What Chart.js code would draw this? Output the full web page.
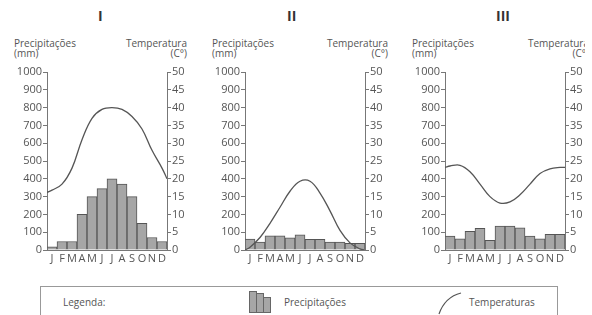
<!DOCTYPE html>
<html>
<head>
<meta charset="utf-8">
<script src="https://cdn.jsdelivr.net/npm/chart.js@4"></script>
<style>
  body { margin: 0; background: #fff; font-family: "Open Sans", sans-serif; color: #555; }
  #page { position: relative; width: 585px; height: 315px; overflow: hidden; }
  .box { position: absolute; }
  .title { position: absolute; top: 6px; font-size: 14px; font-weight: bold; color: #333; }
  .lab { position: absolute; font-size: 10px; line-height: 10px; color: #555; white-space: nowrap; }
  .r { text-align: right; }
  #legend { position: absolute; left: 40px; top: 286px; width: 516px; height: 40px; border: 1px solid #999; }
  .bar { position: absolute; bottom: 0; width: 6px; background: #a6a6a6; border: 1px solid #666; }
</style>
</head>
<body>
<div id="page">
  <div class="title" style="left:98px">I</div>
  <div class="title" style="left:287px">II</div>
  <div class="title" style="left:496px">III</div>

  <div class="lab" style="left:14px;top:38px">Precipitações<br>(mm)</div>
  <div class="lab r" style="left:100px;top:38px;width:87px">Temperatura<br>(C°)</div>
  <div class="lab" style="left:212px;top:38px">Precipitações<br>(mm)</div>
  <div class="lab r" style="left:300px;top:38px;width:88px">Temperatura<br>(C°)</div>
  <div class="lab" style="left:412px;top:38px">Precipitações<br>(mm)</div>
  <div class="lab r" style="left:500px;top:38px;width:89px">Temperatura<br>(C°)</div>

  <div class="box" style="left:0px;top:62px;width:200px;height:210px"><canvas id="c1"></canvas></div>
  <div class="box" style="left:198px;top:62px;width:200px;height:210px"><canvas id="c2"></canvas></div>
  <div class="box" style="left:398px;top:62px;width:200px;height:210px"><canvas id="c3"></canvas></div>

  <div id="legend">
    <div class="lab" style="left:22px;top:10px">Legenda:</div>
    <div style="position:absolute;left:208px;top:4px;width:24px;height:22px">
      <div class="bar" style="left:0;height:20px"></div>
      <div class="bar" style="left:7px;height:18px"></div>
      <div class="bar" style="left:14px;height:14px"></div>
    </div>
    <div class="lab" style="left:243px;top:10px">Precipitações</div>
    <svg style="position:absolute;left:396px;top:4px" width="26" height="24">
      <path d="M2 23 Q8 6 24 2" fill="none" stroke="#555" stroke-width="1.2"/>
    </svg>
    <div class="lab" style="left:428px;top:10px">Temperaturas</div>
  </div>
</div>

<script>
const months = ['J', 'F', 'M', 'A', 'M', 'J', 'J', 'A', 'S', 'O', 'N', 'D'];

// precipitation (mm), one value per month
const precipI = [18, 48, 48, 200, 300, 345, 400, 370, 300, 150, 70, 48];
const precipII = [62, 45, 80, 80, 68, 85, 60, 60, 45, 45, 38, 38];
const precipIII = [78, 63, 105, 122, 55, 135, 135, 124, 78, 63, 88, 88];

// temperature (C) read at the year edges and at the middle of each month
const tempX = [0, 0.5, 1.5, 2.5, 3.5, 4.5, 5.5, 6.5, 7.5, 8.5, 9.5, 10.5, 11.5, 12];
const tempI = [16.2, 16.8, 18.5, 23, 31, 37, 39.5, 40, 39.5, 37.5, 34, 28, 23, 20];
const tempII = [0, 0.8, 3.5, 7.5, 12, 16.5, 19.3, 19.3, 16, 11, 5.5, 2, 0.3, 0];
const tempIII = [23.2, 23.6, 23.8, 22, 18.5, 15, 13.2, 13.5, 15.5, 18.5, 21.5, 22.8, 23.2, 23.2];

const axisColor = '#777';
const tickFont = { family: 'Open Sans', size: 11 };

function makeChart(id, precip, temp) {
  const points = tempX.map(function(x, i) { return { x: x, y: temp[i] }; });
  return new Chart(document.getElementById(id), {
    type: 'bar',
    data: {
      labels: months,
      datasets: [{
        type: 'line',
        data: points,
        xAxisID: 'xLine',
        yAxisID: 'y1',
        borderColor: '#555',
        borderWidth: 1.3,
        pointRadius: 0,
        tension: 0.4,
        fill: false,
        order: 0
      }, {
        type: 'bar',
        data: precip,
        xAxisID: 'x',
        yAxisID: 'y',
        backgroundColor: '#a6a6a6',
        borderColor: '#555',
        borderWidth: 1,
        grouped: false, // otherwise the line counts as a second stack and halves the bars
        barPercentage: 1,
        categoryPercentage: 1,
        order: 1
      }]
    },
    options: {
      responsive: true,
      maintainAspectRatio: false,
      animation: false,
      layout: { padding: { top: 10, left: 0, right: 0, bottom: 0 } },
      plugins: { legend: { display: false }, tooltip: { enabled: false } },
      scales: {
        x: {
          type: 'category',
          offset: true,
          grid: { display: false, drawTicks: false },
          border: { display: true, color: axisColor },
          ticks: { color: '#555', font: tickFont, padding: 2, maxRotation: 0, autoSkip: false },
          afterFit: function(s) { s.height = 22; }
        },
        xLine: {
          type: 'linear',
          display: false,
          offset: false,
          min: 0,
          max: 12
        },
        y: {
          position: 'left',
          min: 0,
          max: 1000,
          grid: { drawOnChartArea: false, drawTicks: true, tickLength: 4, color: axisColor },
          border: { display: true, color: axisColor },
          ticks: { stepSize: 100, color: '#555', font: tickFont, padding: 1,
                   callback: function(v) { return String(v); } },
          afterFit: function(s) { s.width = 47; }
        },
        y1: {
          position: 'right',
          min: 0,
          max: 50,
          grid: { drawOnChartArea: false, drawTicks: true, tickLength: 4, color: axisColor },
          border: { display: true, color: axisColor },
          ticks: { stepSize: 5, color: '#555', font: tickFont, padding: 1 },
          afterFit: function(s) { s.width = 33; }
        }
      }
    }
  });
}

makeChart('c1', precipI, tempI);
makeChart('c2', precipII, tempII);
makeChart('c3', precipIII, tempIII);
</script>
</body>
</html>
